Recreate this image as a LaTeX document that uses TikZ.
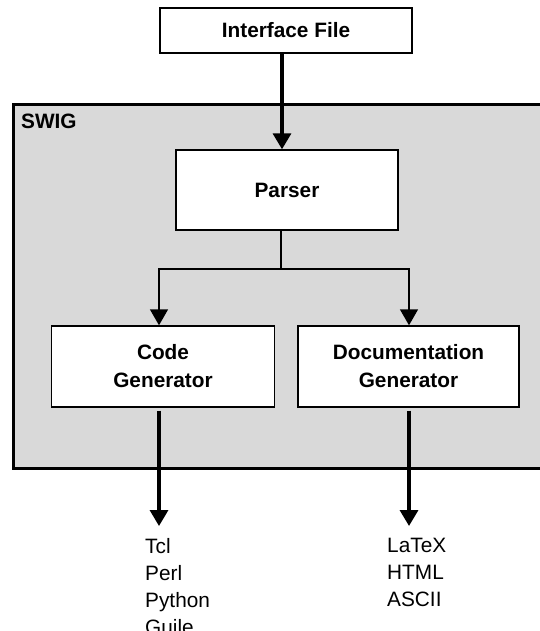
\documentclass[tikz,border=0pt]{standalone}
\usepackage{fontspec}
\setmainfont{Liberation Sans}
\usetikzlibrary{arrows.meta}
\definecolor{swiggray}{HTML}{D9D9D9}
\begin{document}
\begin{tikzpicture}[x=1pt,y=-1pt,
  box/.style={draw=black,fill=white,line width=1.4pt,inner sep=0pt,font=\fontsize{20.8}{28}\selectfont\bfseries,align=center},
  thinarrow/.style={line width=1.4pt,-{Triangle[length=16pt,width=18pt]}},
  thickarrow/.style={line width=3.4pt,-{Triangle[length=16pt,width=18pt]}},
  outtext/.style={font=\fontsize{20.8}{27}\selectfont,align=left,anchor=north west,inner sep=0pt}]
\useasboundingbox (0,0) rectangle (540,631);
% SWIG container
\node[draw=black,fill=swiggray,line width=3pt,minimum width=532pt,minimum height=363pt,inner sep=0pt] (swig) at (279,286.5) {};
\node[font=\fontsize{20.8}{24}\selectfont\bfseries,anchor=west,inner sep=0pt] (swiglabel) at (21,121) {SWIG};
% boxes
\node[box,minimum width=252pt,minimum height=45pt] (iface) at (286,30.5) {Interface File};
\node[box,minimum width=222pt,minimum height=80pt] (parser) at (287,190) {Parser};
\node[box,minimum width=222.5pt,minimum height=81pt] (code) at (163,366.5) {Code\\Generator};
\node[box,minimum width=221pt,minimum height=81pt] (doc) at (408.5,366.5) {Documentation\\Generator};
% x positions of connectors
\coordinate (xin) at (282,0);
\coordinate (xpar) at (281,0);
\coordinate (xcode) at (159,0);
\coordinate (xdoc) at (409,0);
\coordinate (junc) at (281,269);
% connectors
\draw[thickarrow] (iface.south -| xin) -- (parser.north -| xin);
\draw[line width=1.4pt] (parser.south -| xpar) -- (junc);
\draw[thinarrow] (junc) -| (code.north -| xcode);
\draw[thinarrow] (junc) -| (doc.north -| xdoc);
\coordinate (endcode) at (159,526);
\coordinate (enddoc) at (409,526);
\draw[thickarrow] ([yshift=-3pt]code.south -| xcode) -- (endcode);
\draw[thickarrow] ([yshift=-3pt]doc.south -| xdoc) -- (enddoc);
% outputs
\node[outtext] (langs) at (145,538) {Tcl\\Perl\\Python\\Guile};
\node[outtext] (formats) at (387,538) {LaTeX\\HTML\\ASCII};
\end{tikzpicture}
\end{document}
